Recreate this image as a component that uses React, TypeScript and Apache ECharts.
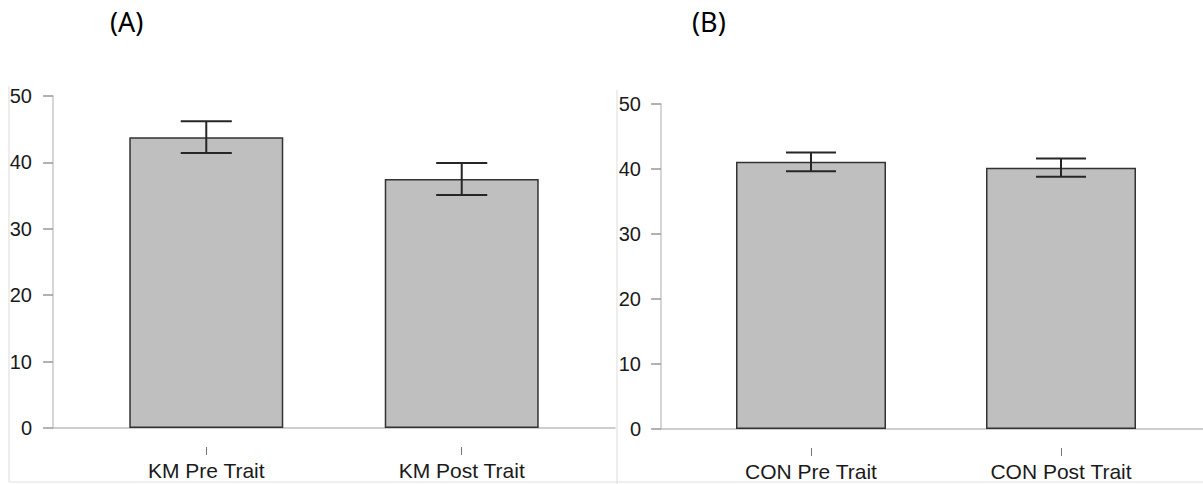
import React, { useEffect, useRef } from "react";
import * as echarts from "echarts";

const categoriesA = ["KM Pre Trait", "KM Post Trait"];
const meansA = [43.8, 37.5];
const errorsA = [2.4, 2.4];

const categoriesB = ["CON Pre Trait", "CON Post Trait"];
const meansB = [41.1, 40.2];
const errorsB = [1.45, 1.4];

const yTicks = [0, 10, 20, 30, 40, 50];
const panelTitles = ["(A)", "(B)"];

const FONT = "'Liberation Sans', Arial, Helvetica, sans-serif";
const TITLE_FONT = "'Noto Sans', 'Open Sans', sans-serif";

function barData(means: number[]) {
  return means.map((m, i) => [i + 1, m]);
}
function errData(means: number[], errs: number[]) {
  return means.map((m, i) => [i + 1, m - errs[i], m + errs[i]]);
}

function renderErr(params: any, api: any) {
  const x = api.value(0);
  const lo = api.value(1);
  const hi = api.value(2);
  const top = api.coord([x, hi]);
  const bot = api.coord([x, lo]);
  const hw = api.size([0.1, 0])[0];
  const style = { stroke: "#262626", lineWidth: 2 };
  return {
    type: "group",
    children: [
      { type: "line", shape: { x1: top[0], y1: top[1], x2: bot[0], y2: bot[1] }, style },
      { type: "line", shape: { x1: top[0] - hw, y1: top[1], x2: top[0] + hw, y2: top[1] }, style },
      { type: "line", shape: { x1: bot[0] - hw, y1: bot[1], x2: bot[0] + hw, y2: bot[1] }, style },
    ],
  };
}

function baseX(gridIndex: number, max: number) {
  return {
    type: "value",
    gridIndex,
    min: 0.4,
    max,
    axisLine: { show: true, lineStyle: { color: "#bdbdbd", width: 1.5 } },
    axisTick: { show: false },
    axisLabel: { show: false },
    splitLine: { show: false },
  };
}

function labelX(gridIndex: number, max: number, cats: string[]) {
  return {
    type: "value",
    gridIndex,
    min: 0.4,
    max,
    position: "bottom",
    offset: 19,
    axisLine: { show: false },
    axisTick: { show: true, customValues: [1, 2], length: 8, lineStyle: { color: "#777", width: 1 } },
    axisLabel: {
      show: true,
      customValues: [1, 2],
      formatter: (v: number) => cats[Math.round(v) - 1] ?? "",
      fontSize: 21,
      fontFamily: FONT,
      color: "#1a1a1a",
      margin: 13,
    },
    splitLine: { show: false },
  };
}

function yAx(gridIndex: number, margin: number) {
  return {
    type: "value",
    gridIndex,
    min: yTicks[0],
    max: yTicks[yTicks.length - 1],
    interval: 10,
    axisLine: { show: true, lineStyle: { color: "#c8c8c8", width: 1.5 } },
    axisTick: { show: true, length: 10, lineStyle: { color: "#999", width: 1.5 } },
    axisLabel: { fontSize: 20, fontFamily: FONT, color: "#1a1a1a", margin },
    splitLine: { show: false },
  };
}

export default function App() {
  const ref = useRef<HTMLDivElement>(null);
  useEffect(() => {
    document.body.style.margin = "0";
    if (!ref.current) return;
    const chart = echarts.init(ref.current, undefined, { renderer: "svg" });
    const frame = { stroke: "#e2e2e2", lineWidth: 1.2 };
    const titleStyle = (t: string) => ({
      text: t,
      fontSize: 27,
      fontWeight: "normal",
      fontFamily: TITLE_FONT,
      fill: "#000",
      lineHeight: 30,
    });
    chart.setOption({
      animation: false,
      backgroundColor: "#ffffff",
      grid: [
        { left: 53, top: 96, width: 562, height: 332 },
        { left: 661, top: 104, width: 542, height: 325 },
      ],
      xAxis: [baseX(0, 2.6), labelX(0, 2.6, categoriesA), baseX(1, 2.568), labelX(1, 2.568, categoriesB)],
      yAxis: [yAx(0, 21), yAx(1, 20)],
      series: [
        {
          type: "bar",
          xAxisIndex: 0,
          yAxisIndex: 0,
          data: barData(meansA),
          barWidth: 154,
          itemStyle: { color: "#bfbfbf", borderColor: "#333", borderWidth: 1.5 },
          z: 2,
        },
        {
          type: "custom",
          xAxisIndex: 0,
          yAxisIndex: 0,
          data: errData(meansA, errorsA),
          renderItem: renderErr,
          z: 3,
        },
        {
          type: "bar",
          xAxisIndex: 2,
          yAxisIndex: 1,
          data: barData(meansB),
          barWidth: 150,
          itemStyle: { color: "#bfbfbf", borderColor: "#333", borderWidth: 1.5 },
          z: 2,
        },
        {
          type: "custom",
          xAxisIndex: 2,
          yAxisIndex: 1,
          data: errData(meansB, errorsB),
          renderItem: renderErr,
          z: 3,
        },
      ],
      graphic: [
        { type: "line", shape: { x1: 9, y1: 86, x2: 9, y2: 482 }, style: frame, z: 0 },
        { type: "line", shape: { x1: 9, y1: 482, x2: 1203, y2: 482 }, style: frame, z: 0 },
        { type: "line", shape: { x1: 617, y1: 90, x2: 617, y2: 484 }, style: frame, z: 0 },
        { type: "text", x: 110, y: 6, style: titleStyle(panelTitles[0]) },
        { type: "text", x: 692, y: 6, style: titleStyle(panelTitles[1]) },
      ],
    });
    return () => chart.dispose();
  }, []);
  return <div ref={ref} style={{ width: 1203, height: 484, position: "absolute", left: 0, top: 0 }} />;
}
